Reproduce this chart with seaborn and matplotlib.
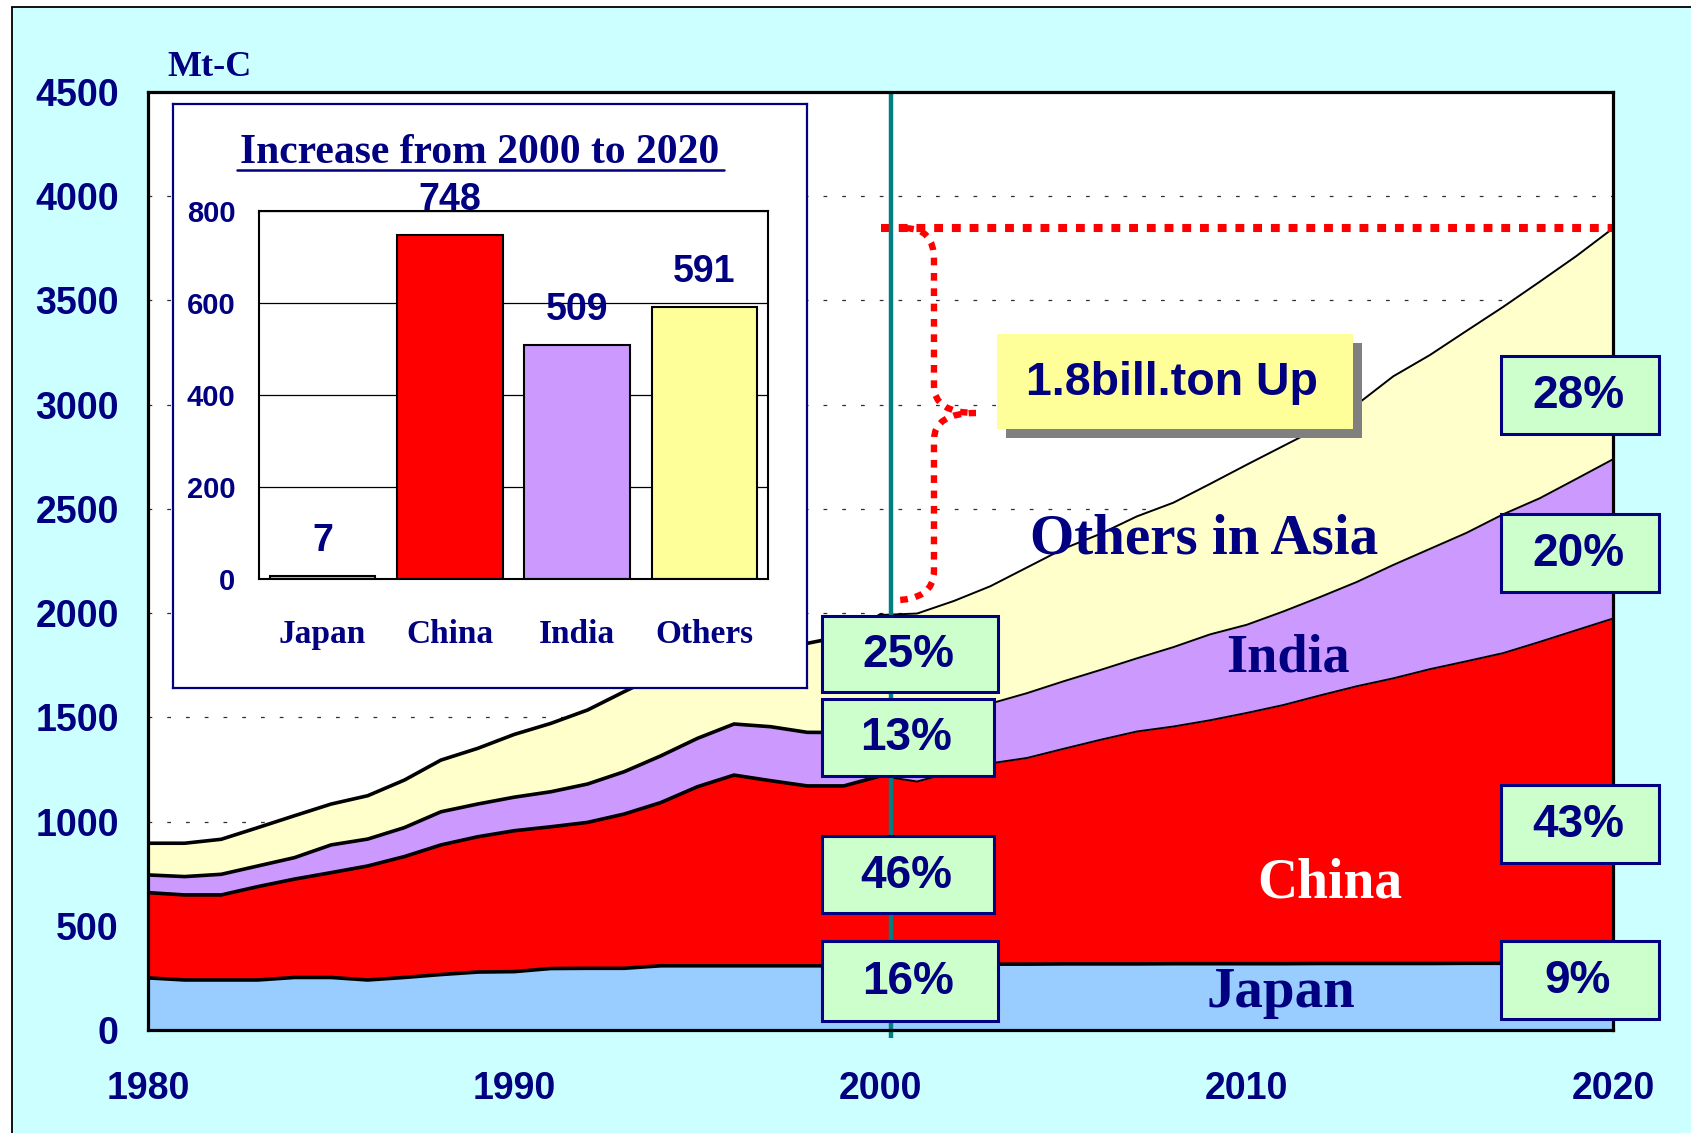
import matplotlib
matplotlib.use("Agg")
import numpy as np
import pandas as pd
import matplotlib.pyplot as plt
import seaborn as sns
from matplotlib.patches import Rectangle, PathPatch
from matplotlib.path import Path

# ---------------- data ----------------
years = list(range(1980, 2021))
japan = [250, 240, 240, 240, 252, 252, 240, 252, 266, 278,
         280, 295, 296, 296, 308, 308, 308, 308, 308, 308,
         313, 315, 315, 316, 316, 317, 317, 317, 318, 318,
         318, 318, 319, 319, 319, 319, 320, 320, 320, 320, 320]
china = [409, 408, 408, 448, 472, 503, 547, 580, 622, 649,
         676, 680, 700, 740, 783, 859, 915, 888, 863, 863,
         906, 877, 925, 963, 989, 1032, 1075, 1115, 1138, 1168,
         1203, 1241, 1286, 1330, 1368, 1412, 1449, 1488, 1542, 1598, 1654]
india = [85, 88, 99, 99, 103, 133, 129, 139, 159, 157,
         161, 168, 184, 203, 224, 232, 245, 259, 257, 256,
         255, 265, 275, 287, 311, 324, 335, 351, 381, 412,
         423, 449, 472, 500, 544, 577, 616, 666, 689, 726, 764]
others = [152, 160, 168, 184, 201, 196, 208, 228, 248, 267,
          301, 328, 355, 384, 393, 402, 415, 421, 427, 463,
          517, 541, 543, 563, 603, 636, 653, 681, 693, 722,
          768, 794, 815, 851, 905, 930, 969, 995, 1039, 1069, 1108]

increase_labels = ["Japan", "China", "India", "Others"]
increase_values = [7, 748, 509, 591]
share_2000 = ["16%", "46%", "13%", "25%"]   # Japan, China, India, Others
share_2020 = ["9%", "43%", "20%", "28%"]
area_names = ["Japan", "China", "India", "Others in Asia"]
y_ticks = [0, 500, 1000, 1500, 2000, 2500, 3000, 3500, 4000, 4500]
x_ticks = [1980, 1990, 2000, 2010, 2020]
inset_ticks = [0, 200, 400, 600, 800]
inset_title = "Increase from 2000 to 2020"
unit_label = "Mt-C"
callout = "1.8bill.ton Up"

NAVY = "#000080"
AREA_COLORS = ["#99CCFF", "#FF0000", "#CC99FF", "#FFFFCC"]
BAR_COLORS = ["#99CCFF", "#FF0000", "#CC99FF", "#FFFF99"]
SANS = "Liberation Sans"
SERIF = "Liberation Serif"

W, H, DPI = 1691, 1133, 100
sns.set_style("white")
plt.rcParams["font.family"] = ["Liberation Sans", "DejaVu Sans"]

fig = plt.figure(figsize=(W / DPI, H / DPI), dpi=DPI, facecolor="white")


def px_axes(x0, y0, x1, y1, **kw):
    return fig.add_axes([x0 / W, 1 - y1 / H, (x1 - x0) / W, (y1 - y0) / H], **kw)


# background panel
bg = fig.add_axes([0, 0, 1, 1], zorder=0)
bg.set_xlim(0, W); bg.set_ylim(H, 0); bg.axis("off")
bg.add_patch(Rectangle((12, 7), W - 12, H - 7, facecolor="#CCFFFF", edgecolor="none"))
bg.plot([12, W], [7, 7], color="black", lw=1.3)
bg.plot([12, 12], [7, H], color="black", lw=1.3)

# ---------------- main stacked area ----------------
ax = px_axes(148, 92, 1613, 1030, zorder=1)
ax.set_facecolor("white")
ax.set_axisbelow(False)
ax.stackplot(years, japan, china, india, others, colors=AREA_COLORS, linewidth=0, zorder=2)
cum = np.cumsum(np.array([japan, china, india, others]), axis=0)
yrs = np.array(years)
split = years.index(2000)
for k in range(4):
    lw_late = 2.6 if k == 0 else 1.4
    sns.lineplot(x=yrs[:split + 1], y=cum[k][:split + 1], ax=ax, color="black", lw=2.6, zorder=3)
    sns.lineplot(x=yrs[split:], y=cum[k][split:], ax=ax, color="black", lw=lw_late, zorder=3)

for v in y_ticks[1:-1]:
    ax.axhline(v, color="#303030", lw=0.9, ls=(0, (3, 12)), zorder=1)

ax.set_xlim(1980, 2020)
ax.set_ylim(0, 4500)
ax.set_xticks(x_ticks)
ax.set_xticks(years, minor=True)
ax.set_yticks(y_ticks)
ax.set_xticklabels([str(t) for t in x_ticks])
ax.set_yticklabels([str(t) for t in y_ticks])
ax.tick_params(axis="both", which="both", direction="in", length=8, width=1.2, color="black")
ax.tick_params(axis="x", which="major", pad=29.5)
ax.tick_params(axis="y", pad=21)
for lab in ax.get_xticklabels() + ax.get_yticklabels():
    lab.set_fontfamily(SANS); lab.set_fontweight("bold"); lab.set_fontsize(27); lab.set_color(NAVY)
for s in ax.spines.values():
    s.set_linewidth(2.3); s.set_color("black"); s.set_visible(True); s.set_zorder(6)
ax.set_xlabel(""); ax.set_ylabel("")

total = cum[3]
top20 = total[-1]
bot00 = total[split]
# teal 2000 marker
ax.plot([2000.3, 2000.3], [4500, -40], color="#008080", lw=3.2, clip_on=False, zorder=5,
        solid_capstyle="butt")
# red dotted level line
ax.plot([2000.0, 2020], [top20, top20], color="#FF0000", lw=5.8, ls=(0, (1.1, 1.1)),
        dash_capstyle="butt", zorder=4, clip_on=False)
# brace
bx, tipx = 2001.46, 2002.6
mid = 2960
verts = [(2000.7, top20), (bx, top20), (bx, top20 - 150),
         (bx, mid + 130),
         (bx, mid), (tipx, mid),
         (bx, mid), (bx, mid - 130),
         (bx, bot00 + 210),
         (bx, bot00 + 70), (2000.3, bot00 + 70)]
codes = [Path.MOVETO, Path.CURVE3, Path.CURVE3,
         Path.LINETO,
         Path.CURVE3, Path.CURVE3,
         Path.CURVE3, Path.CURVE3,
         Path.LINETO,
         Path.CURVE3, Path.CURVE3]
ax.add_patch(PathPatch(Path(verts, codes), fill=False, edgecolor="#FF0000", lw=4.6,
                       ls=(0, (1.2, 1.2)), zorder=4))

# ---------------- inset ----------------
fr = px_axes(173, 104, 807, 688, zorder=2)
fr.set_facecolor("white")
fr.set_xticks([]); fr.set_yticks([])
for s in fr.spines.values():
    s.set_visible(True); s.set_color(NAVY); s.set_linewidth(1.6)

iax = px_axes(259, 211, 768, 579, zorder=3)
sns.barplot(x=increase_labels, y=increase_values, hue=increase_labels, palette=BAR_COLORS,
            legend=False, ax=iax, width=0.83, edgecolor="black", linewidth=1.5, saturation=1)
iax.set_ylim(0, 800)
iax.set_xlim(-0.5, 3.5)
iax.set_yticks(inset_ticks)
iax.set_yticklabels([str(t) for t in inset_ticks])
iax.yaxis.grid(True, color="black", lw=0.9)
iax.set_axisbelow(True)
iax.tick_params(axis="both", length=0)
iax.tick_params(axis="y", pad=17)
iax.tick_params(axis="x", pad=28.5)
for lab in iax.get_yticklabels():
    lab.set_fontfamily(SANS); lab.set_fontweight("bold"); lab.set_fontsize(21); lab.set_color(NAVY)
for lab in iax.get_xticklabels():
    lab.set_fontfamily(SERIF); lab.set_fontweight("bold"); lab.set_fontsize(24); lab.set_color(NAVY)
for s in iax.spines.values():
    s.set_visible(True); s.set_color("black"); s.set_linewidth(1.5)
iax.set_xlabel(""); iax.set_ylabel("")
for i, v in enumerate(increase_values):
    iax.text(i, v + 76, str(v), ha="center", va="center", fontsize=27, fontweight="bold",
             color=NAVY, family=SANS, clip_on=False)

# ---------------- overlay annotations ----------------
ov = fig.add_axes([0, 0, 1, 1], zorder=5)
ov.set_xlim(0, W); ov.set_ylim(H, 0); ov.axis("off")

ov.text(167, 67, unit_label, ha="left", va="center", fontsize=26, fontweight="bold",
        family=SERIF, color=NAVY)
ov.text(480, 153, inset_title, ha="center", va="center", fontsize=30, fontweight="bold",
        family=SERIF, color=NAVY)
ov.plot([237, 724], [170, 170], color=NAVY, lw=1.8)

# callout box with shadow
ov.add_patch(Rectangle((1006, 343), 356, 95, facecolor="#808080", edgecolor="none"))
ov.add_patch(Rectangle((997, 334), 356, 95, facecolor="#FFFF99", edgecolor="none"))
ov.text(1172, 383, callout, ha="center", va="center", fontsize=33.5, fontweight="bold",
        family=SANS, color=NAVY)


def pbox(x0, y0, x1, y1, txt):
    ov.add_patch(Rectangle((x0, y0), x1 - x0, y1 - y0, facecolor="#CCFFCC",
                           edgecolor=NAVY, lw=2.2))
    ov.text((x0 + x1) / 2 - 2, (y0 + y1) / 2 + 1, txt, ha="center", va="center", fontsize=33,
            fontweight="bold", family=SANS, color=NAVY)


boxes_2000 = [(822, 941, 998, 1021), (822, 836, 994, 913), (822, 699, 994, 776), (822, 616, 998, 692)]
boxes_2020 = [(1501, 941, 1659, 1019), (1501, 785, 1659, 863), (1501, 514, 1659, 592), (1501, 356, 1659, 434)]
for (x0, y0, x1, y1), t in zip(boxes_2000, share_2000):
    pbox(x0, y0, x1, y1, t)
for (x0, y0, x1, y1), t in zip(boxes_2020, share_2020):
    pbox(x0, y0, x1, y1, t)

# area names
name_pos = [(1281, 993, NAVY, 41), (1330, 884, "white", 40), (1288, 659, NAVY, 39), (1204, 540, NAVY, 41)]
for name, (x, y, c, fs) in zip(area_names, name_pos):
    ov.text(x, y, name, ha="center", va="center", fontsize=fs, fontweight="bold",
            family=SERIF, color=c)

fig.savefig("out.png", dpi=DPI)
